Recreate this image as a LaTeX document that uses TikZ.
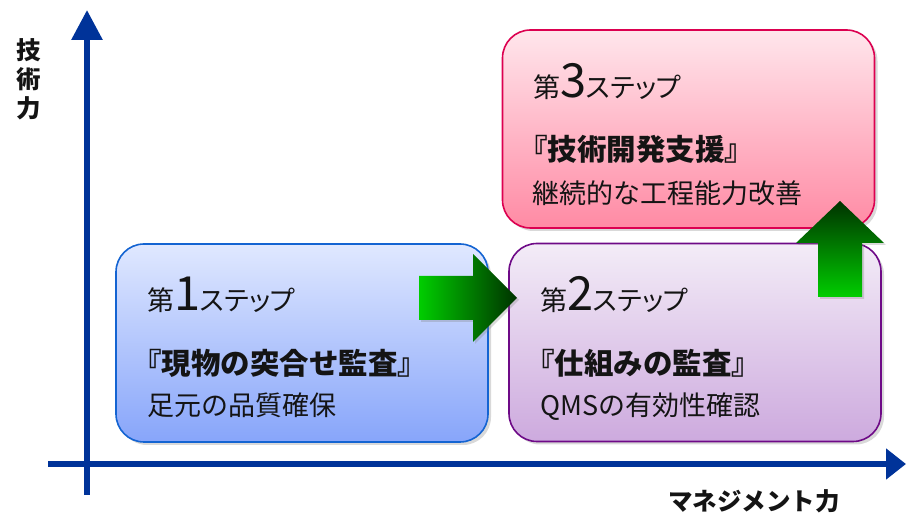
\documentclass[tikz,border=0pt]{standalone}
\usepackage{fontspec}
\setmainfont{Noto Sans CJK JP}
\newfontfamily\jpprop[RawFeature=+palt]{Noto Sans CJK JP}
\usetikzlibrary{shadows,arrows.meta}
\definecolor{axisblue}{RGB}{0,51,153}
\definecolor{txtc}{RGB}{20,20,20}
\definecolor{b1line}{RGB}{20,100,210}
\definecolor{b1top}{RGB}{224,232,255}
\definecolor{b1bot}{RGB}{135,165,250}
\definecolor{b2line}{RGB}{110,10,135}
\definecolor{b2top}{RGB}{243,236,247}
\definecolor{b2bot}{RGB}{205,170,222}
\definecolor{b3line}{RGB}{220,0,80}
\definecolor{b3top}{RGB}{255,230,236}
\definecolor{b3bot}{RGB}{255,138,164}
\definecolor{gbright}{RGB}{0,205,0}
\definecolor{gdark}{RGB}{0,50,0}
\tikzset{
  stepbox/.style={draw, line width=1.6pt, rounded corners=28pt, minimum width=372pt,
    minimum height=198pt, inner sep=0pt,
    drop shadow={opacity=0.3, shadow xshift=3pt, shadow yshift=-3pt}},
  steptxt/.style={anchor=base west, inner sep=0pt, text=txtc, font=\jpprop\fontsize{27}{30}\selectfont},
  titletxt/.style={anchor=base west, inner sep=0pt, text=txtc, font=\fontsize{29.5}{30}\selectfont\bfseries},
  subtxt/.style={anchor=base west, inner sep=0pt, text=txtc, font=\fontsize{27}{30}\selectfont},
  axislabel/.style={inner sep=0pt, text=txtc, font=\fontsize{24.5}{29}\selectfont\bfseries},
  greenarrow/.style={drop shadow={opacity=0.3, shadow xshift=2pt, shadow yshift=-2pt}},
}
\newcommand{\bigdigit}[1]{{\fontsize{47}{47}\selectfont #1}}
\begin{document}
\begin{tikzpicture}[x=1pt,y=1pt]
\useasboundingbox (0,0) rectangle (906,514);
% axes
\coordinate (yb) at (87,19);
\coordinate (yt) at (87,504);
\coordinate (xl) at (48,50);
\coordinate (xr) at (906,50);
\draw[axisblue, line width=6pt, -{Triangle[length=30pt,width=30pt]}] (yb) -- (yt);
\draw[axisblue, line width=6pt, -{Triangle[length=20pt,width=30pt]}] (xl) -- (xr);
\node[axislabel, align=center] (ylab) at (29,435) {技\\術\\力};
\node[axislabel] (xlab) at (754,13) {マネジメント力};
% boxes
\node[stepbox, draw=b1line, top color=b1top, bottom color=b1bot] (box1) at (302,171) {};
\node[stepbox, draw=b2line, top color=b2top, bottom color=b2bot] (box2) at (695,171.5) {};
\node[stepbox, draw=b3line, top color=b3top, bottom color=b3bot] (box3) at (688.5,385) {};
% box 1 text
\node[steptxt] (s1) at (147,203) {第\bigdigit{1}ステップ};
\node[titletxt] (t1) at (132,139) {『現物の突合せ監査』};
\node[subtxt] (u1) at (147,98) {足元の品質確保};
% box 2 text
\node[steptxt] (s2) at (540,203) {第\bigdigit{2}ステップ};
\node[titletxt] (t2) at (525,139) {『仕組みの監査』};
\node[subtxt] (u2) at (540,98) {QMSの有効性確認};
% box 3 text
\node[steptxt] (s3) at (533,416) {第\bigdigit{3}ステップ};
\node[titletxt] (t3) at (518,353) {『技術開発支援』};
\node[subtxt] (u3) at (532,310) {継続的な工程能力改善};
% green block arrows
\path[greenarrow, left color=gbright, right color=gdark]
  (419,194) -- (473,194) -- (473,172) -- (517,216) -- (473,260) -- (473,238) -- (419,238) -- cycle;
\path[greenarrow, bottom color=gbright, top color=gdark]
  (818,217) -- (862,217) -- (862,271) -- (884,271) -- (840,313) -- (796,271) -- (818,271) -- cycle;
\end{tikzpicture}
\end{document}
